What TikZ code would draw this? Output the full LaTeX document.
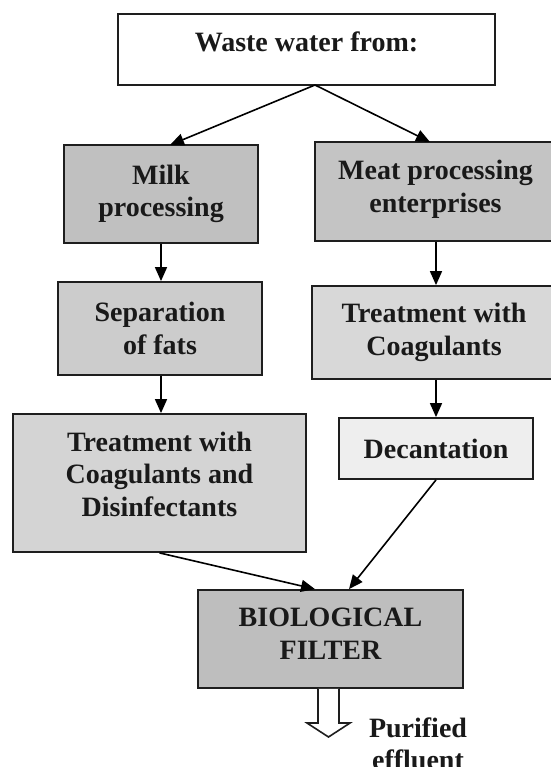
\documentclass[tikz,border=0pt]{standalone}
\usepackage{fontspec}
\setmainfont{Liberation Serif}
\usetikzlibrary{arrows.meta}
\definecolor{cmilk}{HTML}{C0C0C0}
\definecolor{cmeat}{HTML}{C4C4C4}
\definecolor{csep}{HTML}{CCCCCC}
\definecolor{cmtreat}{HTML}{D8D8D8}
\definecolor{ccd}{HTML}{D4D4D4}
\definecolor{cdec}{HTML}{EEEEEE}
\definecolor{cbio}{HTML}{BEBEBE}
\definecolor{cline}{HTML}{1E1E1E}
\tikzset{
  box/.style={draw=cline, line width=1.8pt, rectangle, align=center, inner sep=0pt,
    font=\fontsize{28}{32.5}\selectfont\bfseries, text=black!90},
  flow/.style={draw=black, line width=1.6pt, -{Triangle[length=14pt,width=12pt]}},
  lbl/.style={align=center, inner sep=0pt, font=\fontsize{28}{32.5}\selectfont\bfseries, text=black!90}
}
\newcommand{\dpstrut}[1]{\rule[-#1pt]{0pt}{0pt}}
\begin{document}
\begin{tikzpicture}[x=1pt,y=-1pt]
\useasboundingbox[fill=white] (0,0) rectangle (550,767);
\node[box, fill=white, minimum width=377pt, minimum height=71pt] (top) at (306.5,49.5) {Waste water from:\dpstrut{15}};
\node[box, fill=cmilk, minimum width=194pt, minimum height=98pt] (milk) at (161,194) {Milk\\processing\dpstrut{4}};
\node[box, fill=cmeat, minimum width=241pt, minimum height=99pt] (meat) at (435.5,191.5) {Meat processing\\enterprises\dpstrut{10}};
\node[box, fill=csep, minimum width=204pt, minimum height=93pt] (sep) at (160,328.5) {Separation\\of fats};
\node[box, fill=cmtreat, minimum width=244pt, minimum height=93pt] (mtreat) at (434,332.5) {Treatment with\\Coagulants\dpstrut{2}};
\node[box, fill=ccd, minimum width=293pt, minimum height=138pt] (cd) at (159.5,483) {Treatment with\\Coagulants and\\Disinfectants\dpstrut{18}};
\node[box, fill=cdec, minimum width=194pt, minimum height=61pt] (dec) at (436,448.5) {Decantation};
\node[box, fill=cbio, minimum width=265pt, minimum height=98pt] (bio) at (330.5,639) {BIOLOGICAL\\FILTER\dpstrut{11}};
\node[lbl] (pur) at (418,744) {Purified\\effluent};
% connectors
\coordinate (topo) at (315,85);
\draw[flow] (topo) -- (170,145) coordinate (milkin);
\draw[flow] (topo) -- (430,142) coordinate (meatin);
\draw[flow] (milk.south -| 161,0) -- (sep.north -| 161,0);
\draw[flow] (meat.south -| 436,0) -- (mtreat.north -| 436,0);
\draw[flow] (sep.south -| 161,0) -- (cd.north -| 161,0);
\draw[flow] (mtreat.south -| 436,0) -- (dec.north -| 436,0);
\draw[flow] (cd.south) -- (bio.north -| 315,0);
\draw[flow] (dec.south) -- (bio.north -| 349,0);
% hollow output arrow
\draw[draw=cline, line width=1.6pt, fill=white, line join=miter]
  (bio.south -| 318,0) -- (318,723) -- (307,723) -- (328.5,737) -- (350,723) -- (339,723) -- (bio.south -| 339,0);
\end{tikzpicture}
\end{document}
